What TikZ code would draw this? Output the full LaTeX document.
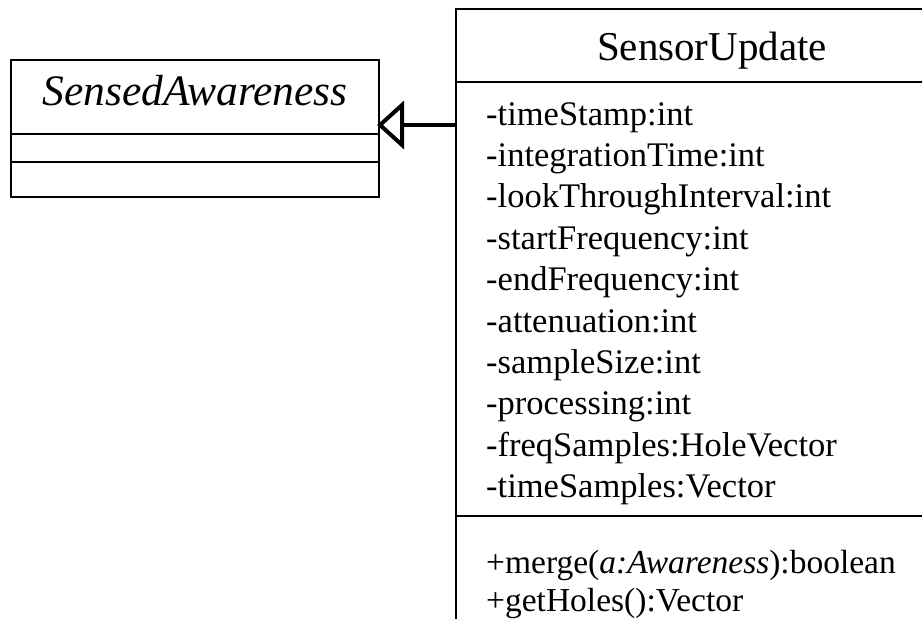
\documentclass[tikz,border=0pt]{standalone}
\usepackage{fontspec}
\setmainfont{Liberation Serif}
\usetikzlibrary{arrows.meta}
\tikzset{
  classbox/.style={draw, line width=2pt, rectangle, inner sep=0pt, anchor=north west},
  sepline/.style={line width=2pt},
  titletext/.style={font=\fontsize{41}{48}\selectfont, inner sep=0pt, anchor=base},
  membertext/.style={font=\fontsize{34.5}{41}\selectfont, inner sep=0pt, anchor=base west},
  methodtext/.style={font=\fontsize{33.5}{38}\selectfont, inner sep=0pt, anchor=base west},
  inherit/.style={line width=4.5pt, shorten >=-3pt, -{Triangle[open, length=27pt, width=48pt, line width=4pt]}}
}
\begin{document}
\begin{tikzpicture}[x=1pt, y=1pt]
\useasboundingbox (0,-619) rectangle (922,0);
\clip (0,-619) rectangle (922,0);
% SensedAwareness
\node[classbox, minimum width=368pt, minimum height=137pt] (sa) at (10,-59) {};
\node[titletext, font=\fontsize{43.5}{50}\selectfont] (saname) at (195,-105) {\itshape SensedAwareness};
\draw[sepline] (sa.west |- 0,-134) coordinate (sa1l) -- (sa.east |- 0,-134) coordinate (sa1r);
\draw[sepline] (sa.west |- 0,-162) coordinate (sa2l) -- (sa.east |- 0,-162) coordinate (sa2r);
% SensorUpdate
\node[classbox, minimum width=514pt, minimum height=650pt] (su) at (455,-8) {};
\node[titletext] (suname) at (712,-60) {SensorUpdate};
\draw[sepline] (su.west |- 0,-82) coordinate (su1l) -- (su.east |- 0,-82) coordinate (su1r);
\draw[sepline] (su.west |- 0,-516) coordinate (su2l) -- (su.east |- 0,-516) coordinate (su2r);
\node[membertext] (a1) at (486,-125) {-timeStamp:int};
\node[membertext] (a2) at (486,-166.4) {-integrationTime:int};
\node[membertext] (a3) at (486,-207.8) {-lookThroughInterval:int};
\node[membertext] (a4) at (486,-249.2) {-startFrequency:int};
\node[membertext] (a5) at (486,-290.6) {-endFrequency:int};
\node[membertext] (a6) at (486,-332) {-attenuation:int};
\node[membertext] (a7) at (486,-373.4) {-sampleSize:int};
\node[membertext] (a8) at (486,-414.8) {-processing:int};
\node[membertext] (a9) at (486,-456.2) {-freqSamples:HoleVector};
\node[membertext] (a10) at (486,-497.6) {-timeSamples:Vector};
\node[methodtext] (m1) at (486,-573) {+merge(\textit{a:Awareness}):boolean};
\node[methodtext] (m2) at (486,-611) {+getHoles():Vector};
% generalization
\draw[inherit] (su.west |- 0,-125) -- (sa.east |- 0,-125);
\end{tikzpicture}
\end{document}
